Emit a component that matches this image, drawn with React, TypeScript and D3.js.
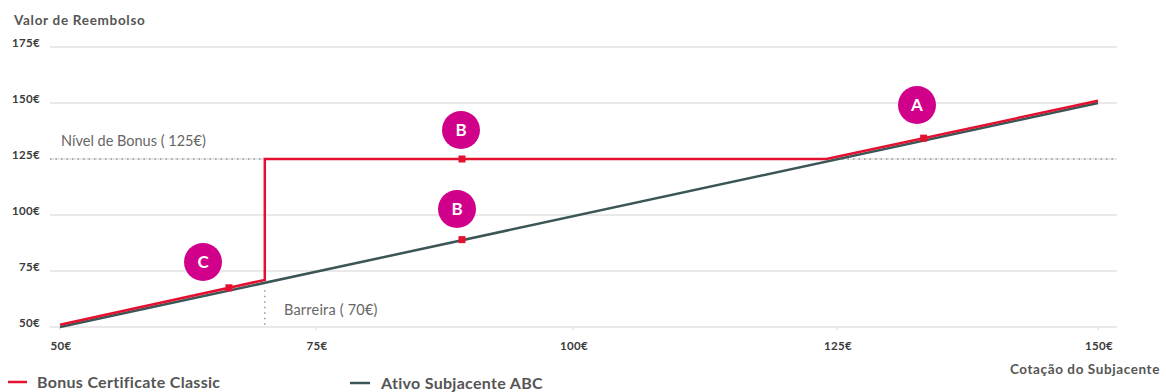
import React from "react";
import * as d3 from "d3";

// Payoff of the bonus certificate vs. the underlying asset
const xTicks = [50, 75, 100, 125, 150];
const yTicks = [50, 75, 100, 125, 150, 175];
const bonusLine: [number, number][] = [
  [50, 51],
  [70, 71],
  [70, 125],
  [124, 125],
  [150, 151],
];
const underlyingLine: [number, number][] = [
  [50, 50],
  [150, 150],
];
const bonusLevel = 125;
const barrier = 70;
// Scenario markers: label, price, payoff
const markers: { label: string; x: number; y: number }[] = [
  { label: "C", x: 66.5, y: 67.5 },
  { label: "B", x: 89.2, y: 125 },
  { label: "B", x: 89.2, y: 89 },
  { label: "A", x: 133.3, y: 134.3 },
];

const W = 1166;
const H = 392;
const FONT = "Lato, 'Open Sans', sans-serif";
const RED = "#e3112f";
const DARK = "#3b5656";
const MAGENTA = "#d1008b";

export default function App() {
  const x = d3.scaleLinear().domain(xTicks).range([60, 316, 573, 837, 1098]);
  const y = d3.scaleLinear().domain([50, 175]).range([327, 47]);
  const line = d3
    .line<[number, number]>()
    .x((d) => x(d[0]))
    .y((d) => y(d[1]));
  const gridX0 = 50;
  const gridX1 = 1117;

  return (
    <svg
      width={W}
      height={H}
      style={{ position: "absolute", left: 0, top: 0, display: "block", background: "#fff" }}
      fontFamily={FONT}
    >
      <text x={14} y={25} fontSize={13.5} fontWeight={700} fill="#555" letterSpacing={0.7}>
        Valor de Reembolso
      </text>

      {yTicks.map((t) => (
        <g key={t}>
          <line x1={gridX0} x2={gridX1} y1={y(t)} y2={y(t)} stroke="#e2e2e2" strokeWidth={1.6} />
          <text
            x={40}
            y={y(t) - 0.5}
            textAnchor="end"
            fontSize={11.5}
            fontWeight={700}
            letterSpacing={0.3}
            fill="#3a3a3a"
          >
            {t}€
          </text>
        </g>
      ))}

      {xTicks.map((t) => (
        <g key={t}>
          <line x1={x(t)} x2={x(t)} y1={y(50)} y2={y(50) + 3} stroke="#d8d8d8" />
          <text
            x={x(t) + 1}
            y={350}
            textAnchor="middle"
            fontSize={11.5}
            fontWeight={700}
            letterSpacing={0.3}
            fill="#3a3a3a"
          >
            {t}€
          </text>
        </g>
      ))}

      {/* bonus level and barrier guides */}
      <line
        x1={gridX0}
        x2={gridX1}
        y1={y(bonusLevel)}
        y2={y(bonusLevel)}
        stroke="#999"
        strokeWidth={1.5}
        strokeDasharray="1.5 4"
      />
      <line
        x1={x(barrier)}
        x2={x(barrier)}
        y1={y(barrier) + 8}
        y2={y(50)}
        stroke="#999"
        strokeWidth={1.5}
        strokeDasharray="1.5 4"
      />
      <text x={61} y={146} fontSize={14.5} fill="#666">
        Nível de Bonus ( 125€)
      </text>
      <text x={284} y={315} fontSize={14.5} fill="#666" letterSpacing={0.2}>
        Barreira ( 70€)
      </text>

      <path d={line(underlyingLine) ?? ""} fill="none" stroke={DARK} strokeWidth={2.5} />
      <path d={line(bonusLine) ?? ""} fill="none" stroke={RED} strokeWidth={2.5} />

      {markers.map((m, i) => (
        <rect key={i} x={x(m.x) - 3.5} y={y(m.y) - 3.5} width={7} height={7} fill={RED} />
      ))}

      {/* scenario badges */}
      {[
        { label: "C", cx: 203, cy: 262 },
        { label: "B", cx: 461, cy: 130 },
        { label: "B", cx: 457, cy: 209 },
        { label: "A", cx: 917, cy: 105 },
      ].map((b, i) => (
        <g key={i}>
          <circle cx={b.cx} cy={b.cy} r={19} fill={MAGENTA} />
          <text
            x={b.cx}
            y={b.cy + 6}
            textAnchor="middle"
            fontSize={17}
            fontWeight={700}
            fill="#fff"
          >
            {b.label}
          </text>
        </g>
      ))}

      <text
        x={1160}
        y={374}
        textAnchor="end"
        fontSize={13.5}
        fontWeight={700}
        fill="#555"
        letterSpacing={0.6}
      >
        Cotação do Subjacente
      </text>

      {/* legend */}
      <line x1={8} x2={27} y1={382} y2={382} stroke={RED} strokeWidth={2.5} />
      <text x={37} y={388} fontSize={16} fontWeight={700} fill="#555" letterSpacing={0.3}>
        Bonus Certificate Classic
      </text>
      <line x1={350} x2={370} y1={383} y2={383} stroke={DARK} strokeWidth={2.5} />
      <text x={381} y={389} fontSize={16} fontWeight={700} fill="#555" letterSpacing={0.3}>
        Ativo Subjacente ABC
      </text>
    </svg>
  );
}
